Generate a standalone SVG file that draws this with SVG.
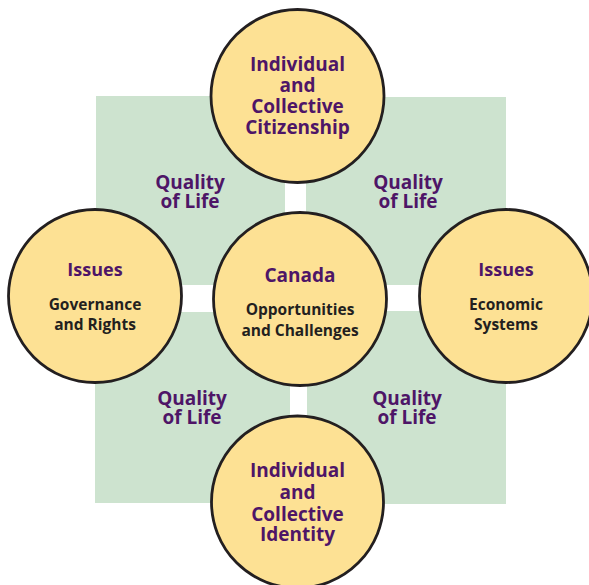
<svg xmlns="http://www.w3.org/2000/svg" width="589" height="585" viewBox="0 0 589 585">
<style>
.bg{fill:#cde3cf}
.node{fill:#fde194;stroke:#231f20;stroke-width:2.8}
text{font-family:"Open Sans","Noto Sans","Liberation Sans",sans-serif;font-weight:bold;text-anchor:middle}
.p{fill:#4e1567;font-size:19px}
.q{fill:#4e1567;font-size:19px}
.d{fill:#231f20;font-size:15.5px}
.s{fill:#4e1567;font-size:18px}
</style>
<rect width="589" height="585" fill="#ffffff"/>
<g id="quadrants">
<rect class="bg" x="96" y="96" width="189" height="189"/>
<rect class="bg" x="306" y="97" width="200" height="188"/>
<rect class="bg" x="95" y="312" width="195" height="191"/>
<rect class="bg" x="307" y="311" width="199" height="193"/>
</g>
<g id="labels">
<text class="q" x="190" y="189">Quality</text>
<text class="q" x="190" y="208">of Life</text>
<text class="q" x="408" y="189">Quality</text>
<text class="q" x="408" y="208">of Life</text>
<text class="q" x="192" y="405">Quality</text>
<text class="q" x="192" y="424">of Life</text>
<text class="q" x="407" y="405">Quality</text>
<text class="q" x="407" y="424">of Life</text>
</g>
<g id="top">
<circle class="node" cx="297.5" cy="96" r="86.5"/>
<text class="p" x="297.5" y="71">Individual</text>
<text class="p" x="297.5" y="92">and</text>
<text class="p" x="297.5" y="113">Collective</text>
<text class="p" x="297.5" y="134">Citizenship</text>
</g>
<g id="left">
<circle class="node" cx="95" cy="296" r="86.5"/>
<text class="s" x="95" y="276">Issues</text>
<text class="d" x="95" y="310">Governance</text>
<text class="d" x="95" y="330">and Rights</text>
</g>
<g id="right">
<circle class="node" cx="506" cy="296" r="86.5"/>
<text class="s" x="506" y="276">Issues</text>
<text class="d" x="506" y="310">Economic</text>
<text class="d" x="506" y="330">Systems</text>
</g>
<g id="center">
<circle class="node" cx="300" cy="299" r="86.5"/>
<text class="p" x="300" y="282">Canada</text>
<text class="d" x="300" y="315">Opportunities</text>
<text class="d" x="300" y="336">and Challenges</text>
</g>
<g id="bottom">
<circle class="node" cx="297.5" cy="502" r="86"/>
<text class="p" x="297.5" y="477">Individual</text>
<text class="p" x="297.5" y="499">and</text>
<text class="p" x="297.5" y="521">Collective</text>
<text class="p" x="297.5" y="541">Identity</text>
</g>
</svg>
